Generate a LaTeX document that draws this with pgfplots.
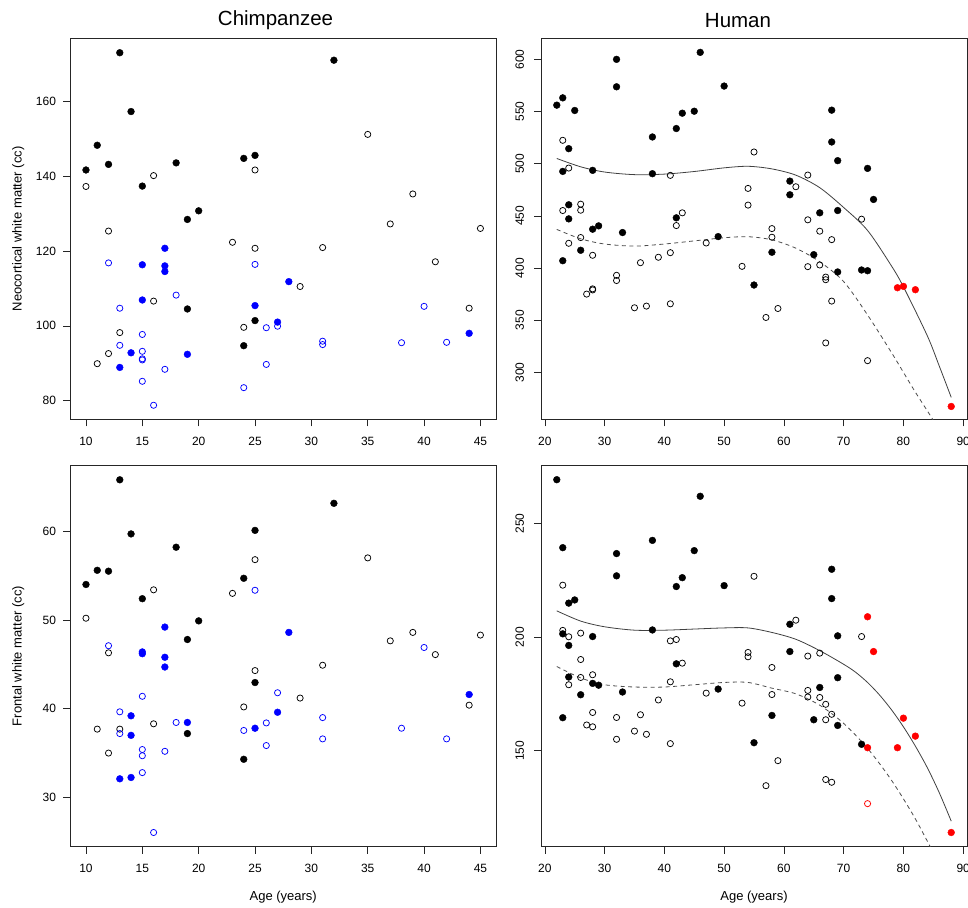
\documentclass[border=0pt]{standalone}
\usepackage{fontspec}
\setmainfont{Liberation Sans}
\usepackage{pgfplots}
\pgfplotsset{compat=1.18}

\pgfplotsset{
  rpanel/.style={
    scale only axis, width=426pt, height=381pt, anchor=south west,
    axis line style={black!85, line width=0.6pt},
    tick style={black!85, line width=0.6pt},
    tick align=outside, tick pos=left, major tick length=7pt,
    /pgf/number format/assume math mode=true,
    ticklabel style={font=\fontsize{12}{14}\selectfont},
    xticklabel style={anchor=north, inner sep=10.5pt},
    label style={font=\fontsize{13}{15}\selectfont},
    title style={font=\fontsize{20.5}{24}\selectfont, anchor=center},
    xlabel style={at={(axis description cs:0.5,-0.1323)}, anchor=center},
    ylabel style={at={(axis description cs:-0.1221,0.5)}, anchor=center},
  },
  hlabels/.style={yticklabel style={anchor=east, inner sep=7pt}},
  vlabels/.style={yticklabel style={rotate=90, anchor=south, inner sep=9.7pt}},
  fb/.style={only marks, mark=*, mark size=3.4pt, draw=black, fill=black, line width=0.4pt},
  ob/.style={only marks, mark=o, mark size=3.1pt, draw=black, line width=0.75pt},
  fbl/.style={only marks, mark=*, mark size=3.4pt, draw=blue, fill=blue, line width=0.4pt},
  obl/.style={only marks, mark=o, mark size=3.1pt, draw=blue, line width=0.75pt},
  fr/.style={only marks, mark=*, mark size=3.4pt, draw=red, fill=red, line width=0.4pt},
  orr/.style={only marks, mark=o, mark size=3.1pt, draw=red, line width=0.75pt},
  fitsolid/.style={smooth, no marks, black!75, line width=0.8pt},
  fitdash/.style={smooth, no marks, black!70, line width=0.8pt, dash pattern=on 4pt off 3.5pt},
}

\begin{document}
\begin{tikzpicture}
% ---- Chimpanzee, neocortical
\begin{axis}[rpanel, hlabels, at={(70.2pt,487.5pt)},
  xmin=8.6, xmax=46.4, ymin=75.0, ymax=176.7,
  xtick={10,15,...,45}, ytick={80,100,...,160},
  title={Chimpanzee}, title style={at={(axis description cs:0.482,1.0315)}},
  ylabel={Neocortical white matter (cc)}]
\addplot[ob] coordinates {(16,140.1)(10,137.2)(12,125.3)(16,106.6)(13,98.2)(12,92.6)(11,89.9)
  (25,141.6)(23,122.3)(25,120.7)(31,120.9)(29,110.5)(24,99.6)
  (35,151.1)(39,135.2)(37,127.2)(45,126.0)(41,117.1)(44,104.7)};
\addplot[obl] coordinates {(12,116.8)(18,108.2)(13,104.7)(15,97.7)(13,94.8)(15,93.2)(15,91.2)(15,90.9)
  (17,88.4)(15,85.2)(16,78.8)(25,116.4)(27,99.9)(26,99.5)(31,95.9)(31,95.0)(26,89.7)(24,83.5)
  (40,105.2)(38,95.5)(42,95.6)};
\addplot[fb] coordinates {(13,172.9)(14,157.2)(11,148.2)(12,143.1)(10,141.6)(18,143.5)(15,137.3)
  (20,130.7)(19,128.4)(19,104.5)(32,170.9)(24,144.7)(25,145.5)(25,101.4)(24,94.7)};
\addplot[fbl] coordinates {(17,120.7)(15,116.3)(17,116.0)(17,114.5)(15,106.9)(14,92.8)(19,92.4)
  (13,88.9)(28,111.8)(25,105.4)(27,101.0)(44,98.0)};
\end{axis}

% ---- Human, neocortical
\begin{axis}[rpanel, vlabels, at={(541pt,487.5pt)},
  xmin=19.36, xmax=90.64, ymin=254.8, ymax=620,
  xtick={20,30,...,90}, ytick={300,350,...,600},
  title={Human}, title style={at={(axis description cs:0.4624,1.0315)}}]
\addplot[fitsolid] coordinates {(22,505)(26,497)(30,492)(35,489.5)(40,490)(45,492.5)(50,496)
  (54,497.5)(58,495)(62,489)(66,477)(70,458)(74,436)(78,402)(80,382)(84,335)(86,306)(88,276)};
\addplot[fitdash] coordinates {(22,437)(26,428)(30,423)(35,421)(40,423)(45,426)(50,429)(54,430)
  (58,427)(62,419)(66,406)(70,387)(74,355)(78,319)(80,300)(82,281)(85,254)(86,243)};
\addplot[ob] coordinates {(23,522.4)(24,495.8)(26,461.2)(26,455.4)(23,455.1)(26,429.2)(24,423.7)
  (28,412.2)(27,375)(28,380)(28,379)(32,393)(32,388)(35,361.9)(37,363.5)(36,405.1)(39,410.3)
  (41,488.8)(55,511.2)(54,476.3)(54,460.3)(62,477.9)(43,452.9)(42,440.7)(47,424)(58,437.8)
  (58,429.5)(41,414.7)(53,401.6)(41,365.7)(59,361.2)(57,352.6)
  (64,489.1)(64,446.2)(66,435.3)(68,427.2)(73,446.8)(64,401.3)(66,402.9)(67,391.3)(67,388.8)
  (68,368.3)(67,328.2)(74,311.2)};
\addplot[fb] coordinates {(22,556.1)(23,563.1)(25,551.0)(32,600)(32,573.7)(24,514.4)(23,492.6)
  (28,493.6)(38,525.6)(38,490.4)(24,460.6)(24,447.1)(28,437.2)(29,440.4)(33,434)(26,417)(23,407)
  (46,606.7)(50,574.4)(43,548.4)(45,550.3)(42,533.7)(42,448.1)(49,430.1)(61,483.3)(61,470.2)
  (58,415.1)(55,383.7)
  (68,551.3)(68,520.8)(69,502.9)(74,495.5)(75,465.7)(66,452.9)(69,455.1)(65,412.8)(69,396.2)
  (73,398.1)(74,397.4)};
\addplot[fr] coordinates {(79,381.1)(80,382.4)(82,379.2)(88,267.3)};
\end{axis}

% ---- Chimpanzee, frontal
\begin{axis}[rpanel, hlabels, at={(70.2pt,60.4pt)},
  xmin=8.6, xmax=46.4, ymin=24.46, ymax=67.4,
  xtick={10,15,...,45}, ytick={30,40,...,60},
  xlabel={Age (years)}, ylabel={Frontal white matter (cc)}]
\addplot[ob] coordinates {(16,53.4)(10,50.2)(12,46.3)(11,37.7)(13,37.7)(16,38.3)(12,35.0)
  (25,56.8)(23,53.0)(25,44.3)(31,44.9)(29,41.2)(24,40.2)
  (35,57.0)(39,48.6)(37,47.65)(45,48.3)(41,46.1)(44,40.4)};
\addplot[obl] coordinates {(12,47.1)(15,41.4)(13,39.65)(13,37.2)(18,38.45)(15,35.4)(15,34.7)
  (17,35.2)(15,32.8)(16,26.05)(25,53.35)(27,41.8)(26,38.4)(24,37.55)(31,39.0)(31,36.6)(26,35.85)
  (40,46.9)(38,37.8)(42,36.6)};
\addplot[fb] coordinates {(13,65.8)(14,59.7)(18,58.2)(11,55.6)(12,55.5)(10,54.0)(15,52.4)(20,49.9)
  (19,47.8)(19,37.2)(32,63.15)(25,60.1)(24,54.7)(25,42.95)(24,34.3)};
\addplot[fbl] coordinates {(17,49.2)(15,46.4)(15,46.2)(17,45.8)(17,44.7)(14,39.2)(19,38.45)(14,37.0)
  (13,32.1)(14,32.25)(28,48.6)(27,39.6)(25,37.8)(44,41.6)};
\end{axis}

% ---- Human, frontal
\begin{axis}[rpanel, vlabels, at={(541pt,60.4pt)},
  xmin=19.36, xmax=90.64, ymin=107.8, ymax=275.4,
  xtick={20,30,...,90}, ytick={150,200,250},
  xlabel={Age (years)}]
\addplot[fitsolid] coordinates {(22,211.5)(26,207)(30,204.5)(35,203)(40,203)(45,203.5)(50,204)
  (54,204)(58,202)(62,199)(66,194)(70,188)(72,184.5)(74,180)(76,174.5)(78,168)(80,160.5)
  (82,152)(84,142.5)(86,131.5)(88,119)};
\addplot[fitdash] coordinates {(22,187)(26,182)(30,179)(35,178)(40,178)(45,179)(50,180)(54,180)
  (58,177.5)(62,175)(66,170)(70,162)(74,151)(78,137)(82,120)(86,100)};
\addplot[ob] coordinates {(23,222.8)(23,202.9)(24,200.1)(26,201.7)(26,190.1)(28,183.4)(26,182.2)
  (24,179)(28,166.8)(27,161.3)(28,160.5)(32,164.6)(32,155)(36,165.8)(35,158.6)(37,157.2)(39,172.3)
  (55,226.7)(62,207.4)(41,198.3)(42,198.9)(54,193.2)(54,191.3)(43,188.5)(58,186.6)(41,180.3)
  (47,175.3)(58,174.7)(53,170.9)(41,153.1)(59,145.6)(57,134.6)
  (73,200.2)(66,192.9)(64,191.6)(64,176.5)(64,173.6)(66,173.4)(67,170.4)(68,166)(67,163.6)
  (67,137.3)(68,136.1)};
\addplot[orr] coordinates {(74,126.7)};
\addplot[fb] coordinates {(22,269.2)(23,239.3)(32,236.7)(38,242.5)(32,226.9)(24,214.9)(25,216.3)
  (23,201.4)(28,200.2)(38,203.1)(24,196.3)(24,182.4)(28,179.6)(29,178.8)(33,175.8)(26,174.6)
  (23,164.5)(46,261.9)(45,238)(43,226.1)(42,222.2)(50,222.6)(42,188.2)(61,205.6)(61,193.6)
  (49,177.1)(58,165.5)(55,153.5)
  (68,229.8)(68,216.9)(69,200.5)(69,182.1)(66,177.8)(65,163.6)(69,161.1)(73,152.8)};
\addplot[fr] coordinates {(74,208.9)(75,193.6)(80,164.3)(82,156.4)(79,151.3)(74,151.3)(88,114)};
\end{axis}

\pgfresetboundingbox
\path (0pt,0pt) rectangle (968pt,907pt);
\end{tikzpicture}
\end{document}
